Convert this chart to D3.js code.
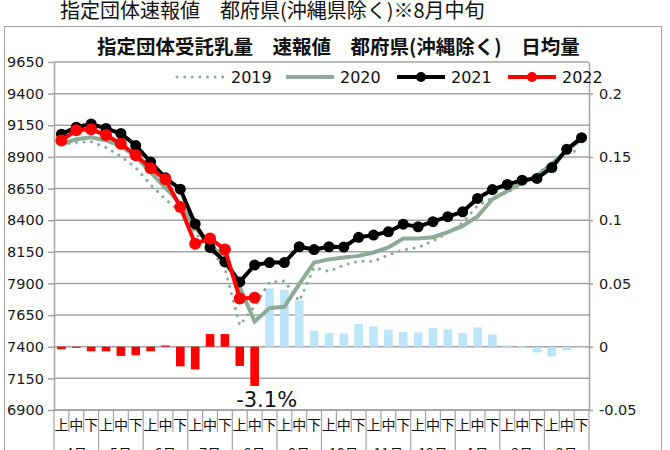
<!DOCTYPE html>
<html>
<head>
<meta charset="utf-8">
<script src="https://cdn.jsdelivr.net/npm/d3@7"></script>
<style>
body { margin: 0; background: #fff; }
</style>
</head>
<body>
<script>
// categories
var months = ["4月", "5月", "6月", "7月", "8月", "9月", "10月", "11月", "12月", "1月", "2月", "3月"];
var dekads = ["上", "中", "下"];

// daily average milk volume (t), one value per dekad
var v2019 = [8995, 9015, 9020, 8975, 8905, 8815, 8680, 8565, 8470, 8300, 8170, 8020,
             7570, 7720, 7910, 7920, 7760, 8025, 7995, 8045, 8075, 8075, 8125, 8165,
             8185, 8235, 8300, 8380, 8515, 8575, 8620, 8685, 8765, 8855, 8935, 8955];
var v2020 = [9000, 9040, 9055, 9030, 8985, 8905, 8780, 8655, 8530, 8340, 8210, 8095,
             7870, 7600, 7705, 7715, 7895, 8065, 8090, 8105, 8118, 8145, 8185, 8255,
             8255, 8265, 8305, 8355, 8430, 8565, 8630, 8700, 8750, 8845, 8950, 9040];
var v2021 = [9080, 9135, 9160, 9125, 9085, 8990, 8860, 8735, 8645, 8370, 8185, 8070,
             7912, 8045, 8065, 8065, 8190, 8168, 8190, 8188, 8265, 8282, 8308, 8368,
             8348, 8388, 8428, 8466, 8572, 8642, 8682, 8716, 8730, 8816, 8960, 9052];
var v2022 = [9030, 9110, 9118, 9073, 9004, 8913, 8810, 8723, 8504, 8214, 8256, 8169,
             7782, 7787];

// year-on-year change (right axis)
var rate2022 = [-0.002, -0.0008, -0.0036, -0.0036, -0.0073, -0.0068, -0.0036, 0.001,
                -0.0155, -0.0179, 0.010, 0.010, -0.0152, -0.031];
var rate2021 = [0.046, 0.045, 0.0365, 0.0127, 0.0108, 0.0105, 0.018, 0.016, 0.0135,
                0.0118, 0.0113, 0.0147, 0.0137, 0.0108, 0.0153, 0.0097, 0.001, 0.0006,
                -0.0045, -0.0077, -0.0026, -0.0005];

// tick labels
var leftTicks = [6900, 7150, 7400, 7650, 7900, 8150, 8400, 8650, 8900, 9150, 9400, 9650];
var rightTicks = [-0.05, 0, 0.05, 0.1, 0.15, 0.2];

var W = 670, H = 450;
var numFont = "'DejaVu Sans', Verdana, sans-serif";
var jpFont = "'Noto Sans CJK JP', 'Noto Sans', sans-serif";
var gray = "#a3a3a3";
var sage = "#8dab98";

var svg = d3.select("body").append("svg")
    .attr("width", W)
    .attr("height", H);

// frame
svg.append("rect")
    .attr("x", 4.5).attr("y", 26.5)
    .attr("width", 657).attr("height", 440)
    .attr("fill", "none")
    .attr("stroke", gray);

// titles
svg.append("text")
    .attr("x", 60).attr("y", 18)
    .style("font-family", jpFont)
    .style("font-size", "20px")
    .attr("fill", "#111")
    .text("指定団体速報値　都府県(沖縄県除く)※8月中旬");

svg.append("text")
    .attr("x", 97).attr("y", 54)
    .style("font-family", jpFont)
    .style("font-size", "19.5px")
    .style("font-weight", "bold")
    .attr("fill", "#111")
    .text("指定団体受託乳量　速報値　都府県(沖縄除く)　日均量");

var x = d3.scaleBand().domain(d3.range(36)).range([54, 589]);
var bw = x.bandwidth();
var y = d3.scaleLinear().domain([6900, 9650]).range([410, 62]);
var y2 = d3.scaleLinear().domain([-0.05, 0.225]).range([410, 62]);

// gridlines
svg.append("g")
    .selectAll("line")
    .data(leftTicks)
    .join("line")
    .attr("x1", 54).attr("x2", 589)
    .attr("y1", function(d) { return y(d); })
    .attr("y2", function(d) { return y(d); })
    .attr("stroke", gray)
    .attr("stroke-width", 1.5);

// axes
var gl = svg.append("g")
    .attr("transform", "translate(54,0)")
    .call(d3.axisLeft(y).tickValues(leftTicks).tickSize(6).tickSizeOuter(0).tickPadding(4)
        .tickFormat(function(d) { return String(d); }));

var gr = svg.append("g")
    .attr("transform", "translate(589,0)")
    .call(d3.axisRight(y2).tickValues(rightTicks).tickSize(4).tickSizeOuter(0).tickPadding(6)
        .tickFormat(function(d) { return String(d); }));

[gl, gr].forEach(function(g) {
    g.selectAll("path, line").attr("stroke", gray).attr("stroke-width", 1.5);
    g.selectAll("text")
        .style("font-family", numFont)
        .style("font-size", "14.5px")
        .attr("fill", "#1a1a1a");
});

// bars
var bars = rate2022.map(function(v, i) { return { i: i, v: v, c: "#ff0000" }; })
    .concat(rate2021.map(function(v, i) { return { i: i + rate2022.length, v: v, c: "#bde5fa" }; }));
var barW = bw * 0.58;

svg.append("g")
    .selectAll("rect")
    .data(bars)
    .join("rect")
    .attr("x", function(d) { return x(d.i) + (bw - barW) / 2; })
    .attr("width", barW)
    .attr("y", function(d) { return y2(Math.max(0, d.v)); })
    .attr("height", function(d) { return Math.abs(y2(d.v) - y2(0)); })
    .attr("fill", function(d) { return d.c; });

// lines
var line = d3.line()
    .x(function(d, i) { return x(i) + bw / 2; })
    .y(function(d) { return y(d); });

svg.append("path")
    .attr("d", line(v2019))
    .attr("fill", "none")
    .attr("stroke", sage)
    .attr("stroke-width", 3)
    .attr("stroke-linecap", "round")
    .attr("stroke-dasharray", "0.1,7.5");

svg.append("path")
    .attr("d", line(v2020))
    .attr("fill", "none")
    .attr("stroke", sage)
    .attr("stroke-width", 4);

function markedLine(data, color, r) {
    svg.append("path")
        .attr("d", line(data))
        .attr("fill", "none")
        .attr("stroke", color)
        .attr("stroke-width", 4);
    svg.append("g")
        .selectAll("circle")
        .data(data)
        .join("circle")
        .attr("cx", function(d, i) { return x(i) + bw / 2; })
        .attr("cy", function(d) { return y(d); })
        .attr("r", r)
        .attr("fill", color);
}
markedLine(v2021, "#000", 5.5);
markedLine(v2022, "#ff0000", 6);

// -3.1% label
var last = rate2022.length - 1;
svg.append("text")
    .attr("x", x(last) + bw / 2 + 12)
    .attr("y", 407)
    .attr("text-anchor", "middle")
    .style("font-family", numFont)
    .style("font-size", "21px")
    .attr("fill", "#111")
    .text("-3.1%");

// category axis
var xa = svg.append("g");
d3.range(37).forEach(function(i) {
    var xx = i < 36 ? x(i) : 589;
    xa.append("line")
        .attr("x1", xx).attr("x2", xx)
        .attr("y1", 410)
        .attr("y2", i % 3 === 0 ? 452 : 432)
        .attr("stroke", gray)
        .attr("stroke-width", 1.2);
});
xa.append("line")
    .attr("x1", 54).attr("x2", 589)
    .attr("y1", 410).attr("y2", 410)
    .attr("stroke", gray)
    .attr("stroke-width", 1.5);

xa.selectAll("text.dk")
    .data(d3.range(36))
    .join("text")
    .attr("class", "dk")
    .attr("x", function(i) { return x(i) + bw / 2; })
    .attr("y", 430)
    .attr("text-anchor", "middle")
    .style("font-family", jpFont)
    .style("font-size", "14px")
    .attr("fill", "#111")
    .text(function(i) { return dekads[i % 3]; });

xa.selectAll("text.mo")
    .data(months)
    .join("text")
    .attr("class", "mo")
    .attr("x", function(d, m) { return x(m * 3) + bw * 1.5; })
    .attr("y", 459)
    .attr("text-anchor", "middle")
    .style("font-family", jpFont)
    .style("font-size", "14px")
    .attr("fill", "#111")
    .text(function(d) { return d; });

// legend
var legendItems = [
    { name: "2019", x: 177, dash: "0.1,7.5", w: 3, color: sage, marker: false },
    { name: "2020", x: 286, dash: null, w: 4, color: sage, marker: false },
    { name: "2021", x: 397, dash: null, w: 4, color: "#000", marker: true },
    { name: "2022", x: 508, dash: null, w: 4, color: "#ff0000", marker: true }
];
var lg = svg.append("g").attr("transform", "translate(0,77)");
legendItems.forEach(function(d) {
    lg.append("line")
        .attr("x1", d.x).attr("x2", d.x + 48)
        .attr("stroke", d.color)
        .attr("stroke-width", d.w)
        .attr("stroke-linecap", d.dash ? "round" : "butt")
        .attr("stroke-dasharray", d.dash);
    if (d.marker) {
        lg.append("circle").attr("cx", d.x + 24).attr("r", 5).attr("fill", d.color);
    }
    lg.append("text")
        .attr("x", d.x + 54)
        .attr("y", 6)
        .style("font-family", numFont)
        .style("font-size", "16px")
        .attr("fill", "#111")
        .text(d.name);
});
</script>
</body>
</html>
